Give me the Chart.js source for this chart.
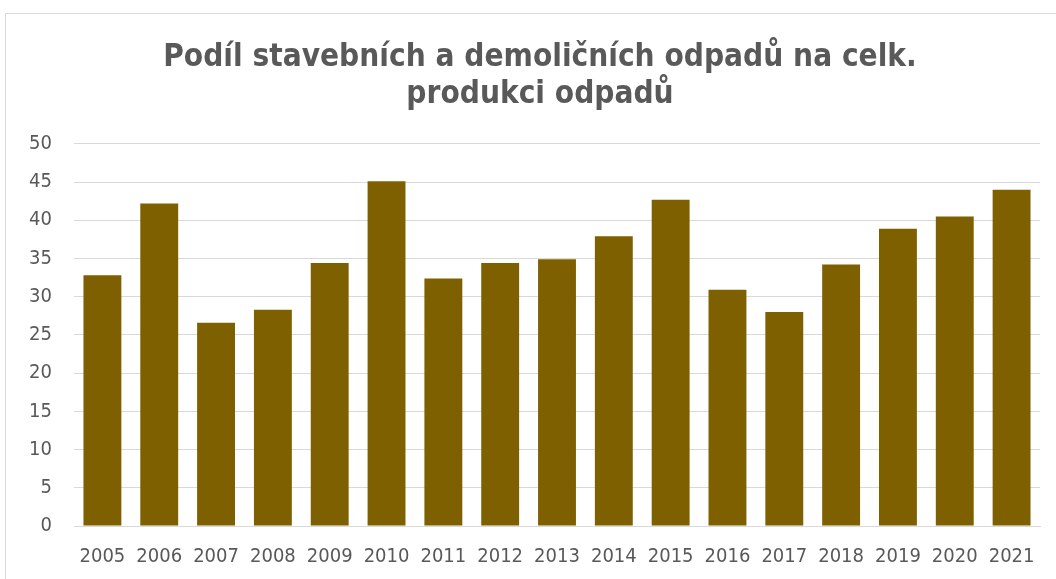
<!DOCTYPE html>
<html lang="cs">
<head>
<meta charset="utf-8">
<script src="https://cdn.jsdelivr.net/npm/chart.js@4/dist/chart.umd.min.js"></script>
<style>
  html, body { margin: 0; padding: 0; background: #fff; }
  #wrap { position: relative; width: 1056px; height: 579px; overflow: hidden; }
  #frame { position: absolute; left: 5px; top: 13px; width: 1100px; height: 600px; border: 1px solid #d9d9d9; box-sizing: border-box; }
  #c { position: absolute; left: 0; top: 0; }
</style>
</head>
<body>
<div id="wrap">
  <div id="frame"></div>
  <canvas id="c" width="1056" height="579"></canvas>
</div>
<script>
// Podíl stavebních a demoličních odpadů (%)
const YEARS  = ['2005','2006','2007','2008','2009','2010','2011','2012','2013','2014','2015','2016','2017','2018','2019','2020','2021'];
const SHARES = [32.8, 42.2, 26.6, 28.3, 34.4, 45.1, 32.4, 34.4, 34.9, 37.9, 42.7, 30.9, 28.0, 34.2, 38.9, 40.5, 44.0];
const Y_MIN = 0, Y_MAX = 50, Y_STEP = 5;

const FONT = "'DejaVu Sans Condensed', Tahoma, 'DejaVu Sans', sans-serif";
const TXT  = '#595959';
const GRID = '#d9d9d9';
const BAR  = '#7f6000';

Chart.defaults.font.family = FONT;
Chart.defaults.color = TXT;

// titulek je v originále vycentrovaný na celý rámeček, ne na levý okraj plátna
const titleShift = {
  id: 'titleShift',
  afterLayout(chart) {
    if (chart.titleBlock) chart.titleBlock.left = 40;
  },
};

new Chart(document.getElementById('c'), {
  type: 'bar',
  plugins: [titleShift],
  data: {
    labels: YEARS,
    datasets: [{
      data: SHARES,
      backgroundColor: BAR,
      borderWidth: 0,
      barPercentage: 1,
      categoryPercentage: 0.667,
    }],
  },
  options: {
    responsive: false,
    animation: false,
    layout: { padding: { left: 0, right: 16, top: 0, bottom: 0 } },
    plugins: {
      legend: { display: false },
      tooltip: { enabled: false },
      title: {
        display: true,
        text: ['Podíl stavebních a demoličních odpadů na celk.', 'produkci odpadů'],
        color: TXT,
        font: { size: 31.3, weight: 'bold', lineHeight: 1.18 },
        padding: { top: 39, bottom: 31 },
      },
    },
    scales: {
      x: {
        grid: { display: false, drawTicks: false },
        border: { display: true, color: GRID, width: 1 },
        ticks: { color: TXT, font: { size: 20 }, padding: 19, maxRotation: 0, autoSkip: false },
        afterFit: s => { s.height = 53; },
      },
      y: {
        min: Y_MIN, max: Y_MAX,
        grid: { color: GRID, lineWidth: 1, drawTicks: false },
        border: { display: false },
        ticks: { stepSize: Y_STEP, color: TXT, font: { size: 20 }, padding: 22 },
        afterFit: s => { s.width = 74; },
      },
    },
  },
});
</script>
</body>
</html>
